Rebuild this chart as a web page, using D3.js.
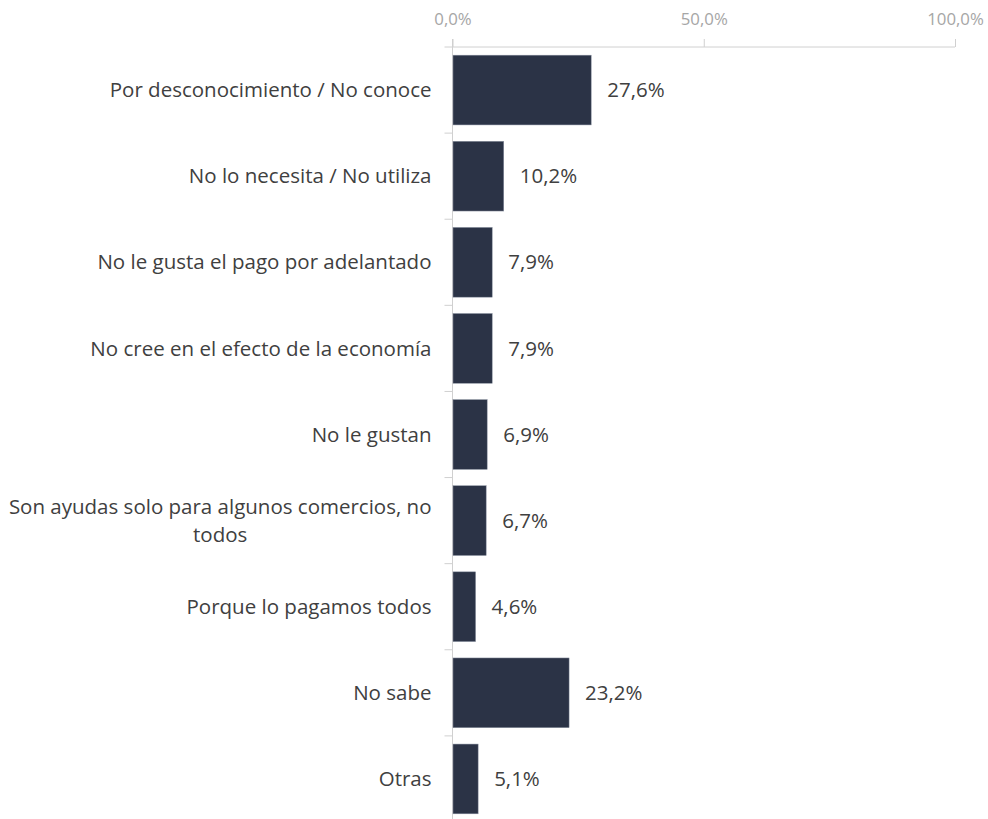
<!DOCTYPE html>
<html>
<head>
<meta charset="utf-8">
<script src="https://cdn.jsdelivr.net/npm/d3@7"></script>
<style>
  html, body { margin: 0; padding: 0; background: #fff; }
  svg text { font-family: "Open Sans", "Noto Sans", sans-serif; }
</style>
</head>
<body>
<svg id="chart" width="988" height="819"></svg>
<script>
// Motivos de rechazo (porcentaje de respuestas)
const categories = [
  "Por desconocimiento / No conoce",
  "No lo necesita / No utiliza",
  "No le gusta el pago por adelantado",
  "No cree en el efecto de la economía",
  "No le gustan",
  "Son ayudas solo para algunos comercios, no todos",
  "Porque lo pagamos todos",
  "No sabe",
  "Otras"
];
const values = [27.6, 10.2, 7.9, 7.9, 6.9, 6.7, 4.6, 23.2, 5.1];
const tickValues = [0, 50, 100];

const svg = d3.select("#chart");
const mLeft = 452.5, mRight = 955, mTop = 47, mBottom = 822;
const fs = 20.5;

const fmt = v => d3.format(".1f")(v).replace(".", ",") + "%";

const x = d3.scaleLinear().domain([0, 100]).range([mLeft, mRight]);
const y = d3.scaleBand().domain(categories).range([mTop, mBottom]).paddingInner(0.19).paddingOuter(0.095);

// Top axis
const xAxis = svg.append("g")
  .attr("transform", `translate(0,${mTop})`)
  .call(d3.axisTop(x).tickValues(tickValues).tickFormat(fmt).tickSize(8).tickSizeOuter(0).tickPadding(14));
xAxis.select(".domain").remove();
xAxis.append("line").attr("x1", mLeft - 8).attr("x2", mRight).attr("y1", 0).attr("y2", 0)
  .attr("stroke", "#d0d0d0");
xAxis.selectAll(".tick line").attr("stroke", "#d0d0d0");
xAxis.selectAll(".tick text").attr("fill", "#a6a6a6").attr("font-size", 16.8);

// Left axis line with ticks between categories
const yg = svg.append("g");
yg.append("line").attr("x1", mLeft).attr("x2", mLeft).attr("y1", mTop - 8).attr("y2", 819)
  .attr("stroke", "#d0d0d0");
const step = y.step();
const seps = categories.slice(1).map(c => y(c) - (step - y.bandwidth()) / 2);
yg.selectAll("line.sep").data(seps).join("line").attr("class", "sep")
  .attr("x1", mLeft - 8).attr("x2", mLeft).attr("y1", d => d).attr("y2", d => d)
  .attr("stroke", "#d0d0d0");

// Bars
svg.append("g").selectAll("rect").data(values).join("rect")
  .attr("x", x(0) + 0.5)
  .attr("y", (d, i) => y(categories[i]))
  .attr("width", d => x(d) - x(0) - 0.5)
  .attr("height", y.bandwidth())
  .attr("fill", "#2b3346")
  .attr("stroke", "#8a91a0").attr("stroke-width", 0.5);

// Value labels
svg.append("g").selectAll("text").data(values).join("text")
  .attr("x", d => x(d) + 16)
  .attr("y", (d, i) => y(categories[i]) + y.bandwidth() / 2)
  .attr("dy", "0.35em")
  .attr("font-size", fs)
  .attr("fill", "#404040")
  .text(fmt);

// Category labels (wrapped to fit the left margin)
const maxW = 425;
const lab = svg.append("g");
categories.forEach(c => {
  const words = c.split(" ");
  const t = lab.append("text").attr("font-size", fs).attr("fill", "#404040").attr("text-anchor", "middle");
  let lines = [], cur = [];
  const probe = lab.append("text").attr("font-size", fs);
  words.forEach(w => {
    const trial = cur.concat(w).join(" ");
    probe.text(trial);
    if (probe.node().getComputedTextLength() > maxW && cur.length) {
      lines.push(cur.join(" ")); cur = [w];
    } else cur.push(w);
  });
  lines.push(cur.join(" "));
  const w0 = Math.max(...lines.map(l => { probe.text(l); return probe.node().getComputedTextLength(); }));
  probe.remove();
  const cx = mLeft - 21 - w0 / 2;
  const cy = y(c) + y.bandwidth() / 2;
  const lh = 28;
  lines.forEach((l, i) => {
    t.append("tspan").attr("x", lines.length > 1 ? cx : mLeft - 21)
      .attr("y", cy + (i - (lines.length - 1) / 2) * lh)
      .attr("dy", "0.35em").text(l);
  });
  if (lines.length === 1) t.attr("text-anchor", "end");
});
</script>
</body>
</html>
